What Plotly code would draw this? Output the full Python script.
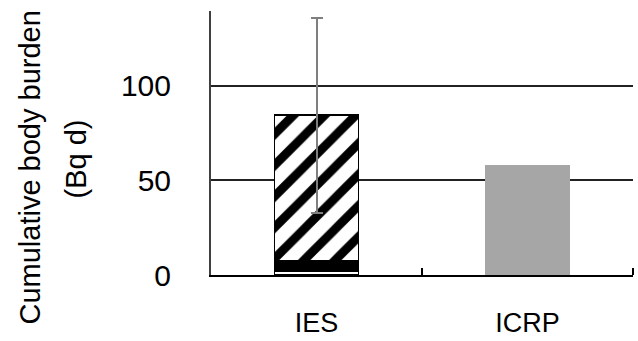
import plotly.graph_objects as go

categories = ["IES", "ICRP"]
ies_base = [2.0]      # thin white bottom segment
ies_dark = [5.5]      # black segment
ies_hatch = [77.0]    # hatched segment
ies_err = [51.5]
icrp_value = [58.3]
y_ticks = [0, 50, 100]
title_line1 = "Cumulative body burden"
title_line2 = "(Bq d)"

FONT = "Liberation Sans, Arial, sans-serif"
L, R, T, B = 211, 5, 11, 66
W, H = 638, 341
pw, ph = W - L - R, H - T - B

fig = go.Figure()
fig.add_trace(go.Bar(x=["IES"], y=ies_base, width=0.4,
                     marker=dict(color="white", line=dict(color="black", width=1.5))))
fig.add_trace(go.Bar(x=["IES"], y=ies_dark, width=0.4,
                     marker=dict(color="black", line=dict(color="black", width=1.5))))
fig.add_trace(go.Bar(x=["IES"], y=ies_hatch, width=0.4,
                     marker=dict(color="white",
                                 pattern=dict(shape="/", fgcolor="black", bgcolor="white",
                                              fgopacity=1, size=22, solidity=0.4,
                                              fillmode="replace"),
                                 line=dict(color="black", width=1.5)),
                     error_y=dict(type="data", array=ies_err, color="#7F7F7F",
                                  thickness=2, width=6)))
fig.add_trace(go.Bar(x=["ICRP"], y=icrp_value, width=0.4,
                     marker=dict(color="#A6A6A6", line=dict(width=0))))

def px_to_paper_x(px):
    return (px - L) / pw

def py_to_paper_y(py):
    return (H - B - py) / ph

fig.update_layout(
    width=W, height=H,
    margin=dict(l=L, r=R, t=T, b=B, autoexpand=False),
    barmode="stack",
    showlegend=False,
    plot_bgcolor="white", paper_bgcolor="white",
    font=dict(family=FONT, color="black"),
    xaxis=dict(categoryorder="array", categoryarray=categories,
               range=[-0.5, 1.5],
               showline=True, linecolor="black", linewidth=2,
               ticks="inside", tickson="boundaries", ticklen=7, tickwidth=2,
               tickcolor="black",
               tickfont=dict(size=27, family=FONT, color="black"),
               ticklabelstandoff=23, showgrid=False),
    yaxis=dict(range=[0, 139.5], tickvals=y_ticks,
               showline=True, linecolor="#404040", linewidth=2,
               showgrid=True, gridcolor="#222222", gridwidth=2,
               zeroline=False, ticks="",
               tickfont=dict(size=30, family=FONT, color="black"),
               ticklabelstandoff=32),
    shapes=[
        # right-hand boundary tick of the category axis
        dict(type="line", xref="paper", yref="paper", x0=1, x1=1,
             y0=0, y1=7 / ph, line=dict(color="black", width=2)),
    ],
    annotations=[
        dict(text=title_line1, textangle=-90, xref="paper", yref="paper",
             x=px_to_paper_x(29), y=py_to_paper_y(167.5),
             xanchor="center", yanchor="middle", showarrow=False,
             font=dict(size=29, family=FONT, color="black")),
        dict(text=title_line2, textangle=-90, xref="paper", yref="paper",
             x=px_to_paper_x(75), y=py_to_paper_y(159.5),
             xanchor="center", yanchor="middle", showarrow=False,
             font=dict(size=29, family=FONT, color="black")),
    ],
)

fig.write_html("out.html", config={"displayModeBar": False},
               post_script="document.body.style.margin='0';document.body.style.overflow='hidden';")
